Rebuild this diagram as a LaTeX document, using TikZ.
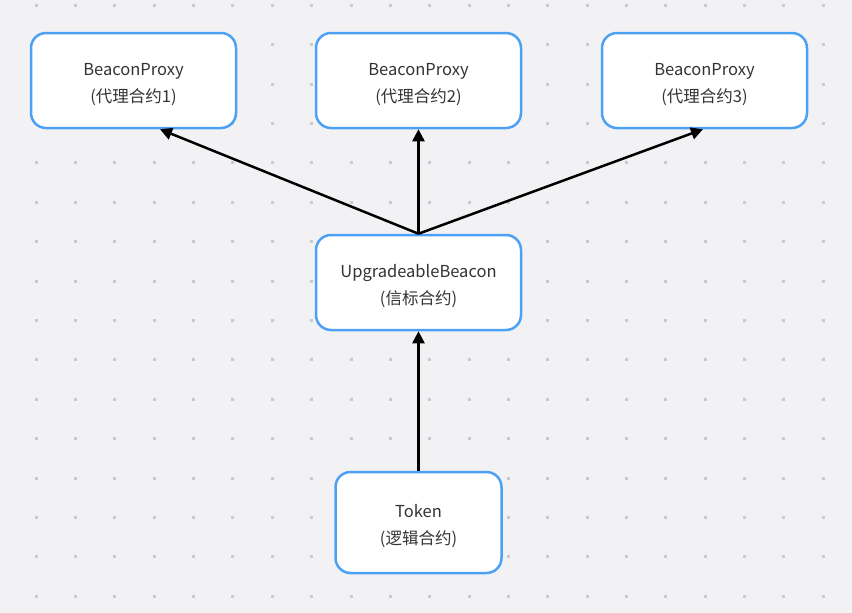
\documentclass[tikz,border=0pt]{standalone}
\usepackage{fontspec}
\newfontfamily\cjk{Noto Sans CJK SC}
\usetikzlibrary{arrows.meta}
\definecolor{bggray}{HTML}{F2F2F5}
\definecolor{dotgray}{HTML}{C9C9CE}
\definecolor{boxblue}{HTML}{4DA1F5}
\definecolor{txtgray}{HTML}{333333}
\tikzset{
  box/.style={rectangle, rounded corners=15pt, draw=boxblue, line width=2.5pt, fill=white,
    align=center, text=txtgray, font=\cjk\fontsize{16.5}{27}\selectfont, text height=48pt,
    minimum width=205pt, minimum height=95pt, inner sep=0pt},
  link/.style={-{Triangle[length=12pt,width=12pt]}, line width=2.5pt, black}
}
\begin{document}
\begin{tikzpicture}[x=1pt, y=-1pt]

    % background with dot grid
    \fill[bggray] (0,0) rectangle (852,613);
    \useasboundingbox (0,0) rectangle (852,613);
    \foreach \i in {0,...,20}
      \foreach \j in {0,...,15}
        \fill[dotgray] ({36.2+39.35*\i-1.5},{5.3+39.4*\j-1.5}) rectangle ++(3,3);

    \node(proxy-1)[box] at (133.5,80.5) {BeaconProxy\\(代理合约1)};
    \node(proxy-2)[box] at (418.5,80.5) {BeaconProxy\\(代理合约2)};
    \node(proxy-3)[box] at (704.5,80.5) {BeaconProxy\\(代理合约3)};

    \node(beacon)[box] at (418.5,282.5) {UpgradeableBeacon\\(信标合约)};
    \node(token)[box, minimum width=166pt, minimum height=101pt] at (418.5,522.5) {Token\\(逻辑合约)};

    \draw[link] (token) -- (beacon);
    \draw[link] (beacon.north) -- (proxy-2.south);
    \draw[link] (beacon.north) -- ([xshift=26.5pt]proxy-1.south);
    \draw[link] (beacon.north) -- ([xshift=-1.5pt]proxy-3.south);
  \end{tikzpicture}
\end{document}
